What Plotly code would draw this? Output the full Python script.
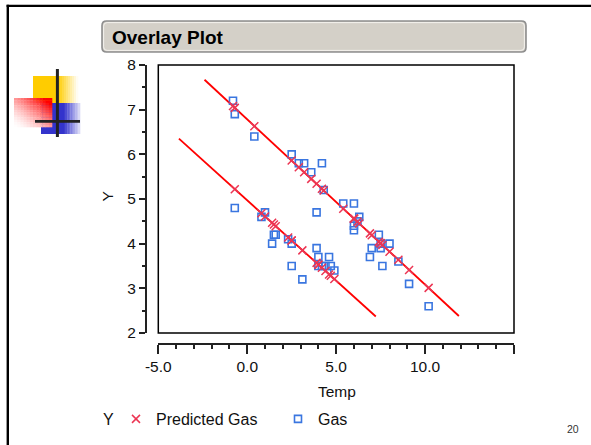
import plotly.graph_objects as go

# ---------------- data ----------------
before_temp = [-0.8, -0.7, 0.4, 2.5, 2.9, 3.2, 3.6, 3.9, 4.2, 4.3, 5.4, 6.0, 6.0, 6.0,
               6.2, 6.3, 6.9, 7.0, 7.4, 7.5, 7.5, 7.6, 8.0, 8.5, 9.1, 10.2]
before_gas = [7.2, 6.9, 6.4, 6.0, 5.8, 5.8, 5.6, 4.7, 5.8, 5.2, 4.9, 4.9, 4.3, 4.4,
              4.5, 4.6, 3.7, 3.9, 4.2, 4.0, 3.9, 3.5, 4.0, 3.6, 3.1, 2.6]
before_pred = [7.08, 7.04, 6.63, 5.86, 5.71, 5.60, 5.45, 5.34, 5.23, 5.19, 4.78, 4.56, 4.56, 4.56,
               4.49, 4.45, 4.23, 4.19, 4.04, 4.01, 4.01, 3.97, 3.82, 3.64, 3.41, 3.01]

after_temp = [-0.7, 0.8, 1.0, 1.4, 1.5, 1.6, 2.3, 2.5, 2.5, 3.1, 3.9, 4.0, 4.0, 4.2,
              4.4, 4.6, 4.7, 4.9]
after_gas = [4.8, 4.6, 4.7, 4.0, 4.2, 4.2, 4.1, 4.0, 3.5, 3.2, 3.9, 3.7, 3.5, 3.5,
             3.5, 3.7, 3.5, 3.4]
after_pred = [5.22, 4.68, 4.61, 4.47, 4.43, 4.39, 4.14, 4.07, 4.07, 3.85, 3.57, 3.53, 3.53, 3.46,
              3.39, 3.31, 3.28, 3.21]

fit_before_x = [-2.4, 11.9]
fit_before_y = [7.67, 2.38]
fit_after_x = [-3.84, 7.23]
fit_after_y = [6.35, 2.37]

x_tick_vals = [-5, 0, 5, 10, 15]
x_tick_text = ["-5.0", "0.0", "5.0", "10.0", ""]
y_tick_vals = [2, 3, 4, 5, 6, 7, 8]
y_tick_text = ["2", "3", "4", "5", "6", "7", "8"]

title_text = "Overlay Plot"
x_title = "Temp"
y_title = "Y"
legend_title = "Y"
page_number = "20"

# ---------------- helpers ----------------
W, H = 591, 445
FONT = "Liberation Sans, Arial, sans-serif"
INK = "#111111"


def px(x):
    return x / W


def py(y):
    return 1 - y / H


def mix(c1, c2, t):
    r = round(c1[0] + (c2[0] - c1[0]) * t)
    g = round(c1[1] + (c2[1] - c1[1]) * t)
    b = round(c1[2] + (c2[2] - c1[2]) * t)
    return f"rgb({r},{g},{b})"


shapes = []


def rect(x0, y0, x1, y1, color):
    shapes.append(dict(type="rect", xref="paper", yref="paper",
                       x0=px(x0), x1=px(x1), y0=py(y1), y1=py(y0),
                       fillcolor=color, line=dict(width=0), layer="above"))


WHITE = (255, 255, 255)
YELLOW = (255, 204, 0)
BLUE = (51, 51, 204)
RED = (255, 0, 0)

# yellow square: solid then fade to white on the right
rect(33, 76, 58, 103, mix(YELLOW, WHITE, 0))
n = 10
for i in range(n):
    xa = 58 + 20 * i / n
    xb = 58 + 20 * (i + 1) / n
    rect(xa, 76, xb + 0.3, 103, mix(YELLOW, WHITE, (i + 0.5) / n))

# blue square: solid then fade to white on the right
rect(41, 103, 64, 134, mix(BLUE, WHITE, 0))
for i in range(n):
    xa = 64 + 16 * i / n
    xb = 64 + 16 * (i + 1) / n
    rect(xa, 103, xb + 0.3, 134, mix(BLUE, WHITE, (i + 0.5) / n * 0.85))

# red square: diagonal fade (red top-right to white bottom-left)
m = 12
x0r, x1r, y0r, y1r = 14, 52, 98, 127
for i in range(m):
    for j in range(m):
        xa = x0r + (x1r - x0r) * i / m
        xb = x0r + (x1r - x0r) * (i + 1) / m
        ya = y0r + (y1r - y0r) * j / m
        yb = y0r + (y1r - y0r) * (j + 1) / m
        t = ((i + 0.5) / m + 1 - (j + 0.5) / m) / 2
        t = min(1.0, t ** 1.6 * 1.25)
        rect(xa, ya, xb + 0.3, yb + 0.3, mix(WHITE, RED, t))

# black crosshair
shapes.append(dict(type="line", xref="paper", yref="paper",
                   x0=px(57.4), x1=px(57.4), y0=py(69), y1=py(137),
                   line=dict(color="#222222", width=3)))
shapes.append(dict(type="line", xref="paper", yref="paper",
                   x0=px(35), x1=px(80), y0=py(121.3), y1=py(121.3),
                   line=dict(color="#222222", width=2.7)))

# page border (left and top)
shapes.append(dict(type="line", xref="paper", yref="paper",
                   x0=px(7.8), x1=px(7.8), y0=py(4.8), y1=py(446),
                   line=dict(color="#000000", width=2.4)))
shapes.append(dict(type="line", xref="paper", yref="paper",
                   x0=px(6.6), x1=px(592), y0=py(5.8), y1=py(5.8),
                   line=dict(color="#000000", width=2.2)))


# title bar (rounded rectangle)
def rounded_path(x0, y0, x1, y1, r):
    pts = [
        ("M", [(x0 + r, y0)]),
        ("L", [(x1 - r, y0)]),
        ("Q", [(x1, y0), (x1, y0 + r)]),
        ("L", [(x1, y1 - r)]),
        ("Q", [(x1, y1), (x1 - r, y1)]),
        ("L", [(x0 + r, y1)]),
        ("Q", [(x0, y1), (x0, y1 - r)]),
        ("L", [(x0, y0 + r)]),
        ("Q", [(x0, y0), (x0 + r, y0)]),
    ]
    s = ""
    for cmd, ps in pts:
        s += cmd + " " + " ".join(f"{px(a):.5f},{py(b):.5f}" for a, b in ps) + " "
    return s + "Z"


shapes.append(dict(type="path", xref="paper", yref="paper",
                   path=rounded_path(102, 21, 526, 52, 4.5),
                   fillcolor="#D4D0C8", line=dict(color="#8E8E8E", width=1.6)))
shapes.append(dict(type="path", xref="paper", yref="paper",
                   path=rounded_path(103.6, 22.6, 524.4, 50.4, 3.5),
                   fillcolor="rgba(0,0,0,0)", line=dict(color="#F4F2EE", width=1)))

# plot frame
shapes.append(dict(type="rect", xref="x domain", yref="y domain",
                   x0=0, x1=1, y0=0, y1=1, line=dict(color="#000000", width=1.5),
                   fillcolor="rgba(0,0,0,0)", layer="above"))

# ---------------- figure ----------------
fig = go.Figure()

fig.add_trace(go.Scatter(x=fit_before_x, y=fit_before_y, mode="lines",
                         line=dict(color="#FF0000", width=1.8),
                         showlegend=False, hoverinfo="skip"))
fig.add_trace(go.Scatter(x=fit_after_x, y=fit_after_y, mode="lines",
                         line=dict(color="#FF0000", width=1.8),
                         showlegend=False, hoverinfo="skip"))

fig.add_trace(go.Scatter(x=before_temp + after_temp, y=before_gas + after_gas,
                         mode="markers", name="Gas", legend="legend2",
                         marker=dict(symbol="square-open", size=7, color="#3A76E0",
                                     line=dict(width=1.6, color="#3A76E0"))))
fig.add_trace(go.Scatter(x=before_temp + after_temp, y=before_pred + after_pred,
                         mode="markers", name="Predicted Gas", legend="legend",
                         marker=dict(symbol="x-thin", size=8, color="#EC3553",
                                     line=dict(width=1.5, color="#EC3553"))))

axis_common = dict(showline=True, linecolor="#222222", linewidth=1.5,
                   ticks="outside", tickwidth=1.5, tickcolor="#222222",
                   showgrid=False, zeroline=False, tickmode="array",
                   tickfont=dict(family=FONT, size=15.5, color=INK))

fig.update_layout(
    width=W, height=H,
    margin=dict(l=0, r=0, t=0, b=0, autoexpand=False),
    paper_bgcolor="white", plot_bgcolor="white",
    font=dict(family=FONT, color=INK),
    xaxis=dict(domain=[px(158.3), px(514)], range=[-5, 15], anchor="free",
               position=py(344), ticklen=9, tickvals=x_tick_vals, ticktext=x_tick_text,
               minor=dict(tickmode="linear", tick0=-5, dtick=1, ticks="outside",
                          ticklen=4, tickwidth=1.5, tickcolor="#222222"),
               **axis_common),
    yaxis=dict(domain=[py(333), py(65)], range=[2, 8], anchor="free",
               position=px(145.7), ticklen=6, tickvals=y_tick_vals, ticktext=y_tick_text,
               minor=dict(tickmode="linear", tick0=2, dtick=0.5, ticks="outside",
                          ticklen=3, tickwidth=1.5, tickcolor="#222222"),
               **axis_common),
    showlegend=True,
    legend=dict(x=px(116), y=py(419), xanchor="left", yanchor="middle",
                orientation="h", bgcolor="rgba(0,0,0,0)",
                font=dict(family=FONT, size=16, color=INK)),
    legend2=dict(x=px(278), y=py(419), xanchor="left", yanchor="middle",
                 orientation="h", bgcolor="rgba(0,0,0,0)",
                 font=dict(family=FONT, size=16, color=INK)),
    shapes=shapes,
    annotations=[
        dict(text=title_text, x=px(110), y=py(37), xref="paper", yref="paper",
             xanchor="left", yanchor="middle", showarrow=False,
             font=dict(family=FONT, size=19, color="#000000", weight="bold")),
        dict(text=y_title, x=px(107.5), y=py(197), xref="paper", yref="paper",
             xanchor="center", yanchor="middle", showarrow=False, textangle=-90,
             font=dict(family=FONT, size=15.5, color=INK)),
        dict(text=x_title, x=px(337), y=py(391), xref="paper", yref="paper",
             xanchor="center", yanchor="middle", showarrow=False,
             font=dict(family=FONT, size=15.5, color=INK)),
        dict(text=legend_title, x=px(108.5), y=py(419), xref="paper", yref="paper",
             xanchor="center", yanchor="middle", showarrow=False,
             font=dict(family=FONT, size=16, color=INK)),
        dict(text=page_number, x=px(573), y=py(429), xref="paper", yref="paper",
             xanchor="center", yanchor="middle", showarrow=False,
             font=dict(family=FONT, size=10.5, color="#333333")),
    ],
)

fig.write_html(
    "out.html",
    config={"displayModeBar": False},
    post_script="document.body.style.margin='0';document.body.style.padding='0';",
)
